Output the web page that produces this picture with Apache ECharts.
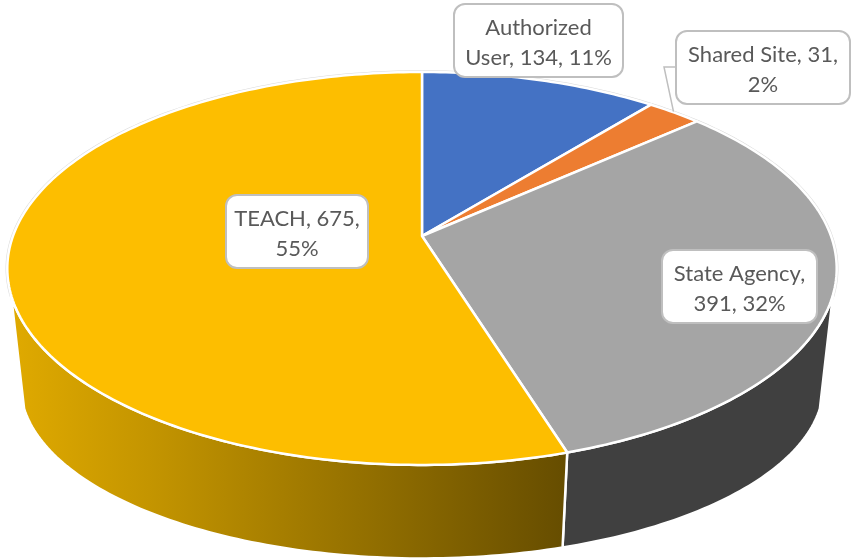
<!DOCTYPE html>
<html>
<head>
<meta charset="utf-8">
<style>
  html, body { margin: 0; background: #fff; }
  #chart { width: 851px; height: 559px; }
</style>
<script src="https://cdn.jsdelivr.net/npm/echarts@6/dist/echarts.min.js"></script>
</head>
<body>
<div id="chart"></div>
<script>
const categories = ["Authorized User", "Shared Site", "State Agency", "TEACH"];
const values = [134, 31, 391, 675];
const percents = [11, 2, 32, 55];
// word after which each label wraps
const wrapAfter = [1, 3, 2, 2];

const topColors = ["#4472C4", "#ED7D31", "#A5A5A5", "#FDBE00"];
const wallColors = ["#2F5597", "#B45F22", "#404040", null];

// label boxes: x, y, w, h
const boxes = [
  [454, 4, 169, 73],
  [676, 31, 174, 73],
  [662, 250, 155, 73],
  [226, 195, 142, 73],
];

// perspective rim of the pie, top face and bottom face
const topRim = { cx: 422, cy: 236, r: 409, s: 191.1, p: 0.1653 };
const bottomRim = { cx: 422, cy: 356.9, r: 396, s: 168.3, p: 0.165 };
const silhouette = [107, 253];

const total = values.reduce((a, b) => a + b, 0);

function project(rim, deg) {
  const a = (deg * Math.PI) / 180;
  const u = Math.sin(a);
  const v = -Math.cos(a);
  const w = 1 - rim.p * v;
  return [rim.cx + (rim.r * u) / w, rim.cy + (rim.s * v) / w];
}

function arc(rim, from, to) {
  const pts = [];
  const n = Math.max(2, Math.ceil(Math.abs(to - from)));
  for (let i = 0; i <= n; i++) pts.push(project(rim, from + ((to - from) * i) / n));
  return pts;
}

function labelText(i) {
  const words = `${categories[i]}, ${values[i]}, ${percents[i]}%`.split(" ");
  return words.slice(0, wrapAfter[i]).join(" ") + "\n" + words.slice(wrapAfter[i]).join(" ");
}

const yellowWall = new echarts.graphic.LinearGradient(10, 0, 566, 0, [
  { offset: 0, color: "#E0AA00" },
  { offset: 0.25, color: "#C49500" },
  { offset: 1, color: "#664D00" },
], true);

function renderSlice(params, api) {
  const i = params.dataIndex;
  const start = api.value(1);
  const end = api.value(2);
  const children = [];

  // faint grey halo outside the white edge
  children.push({
    type: "polyline",
    z2: 0,
    shape: { points: arc(topRim, start, end) },
    style: { fill: null, stroke: "#DADADA", lineWidth: 3.5 },
  });

  const wallFrom = Math.max(start, silhouette[0]);
  const wallTo = Math.min(end, silhouette[1]);
  if (wallTo > wallFrom) {
    children.push({
      type: "polygon",
      z2: 1,
      shape: { points: arc(topRim, wallFrom, wallTo).concat(arc(bottomRim, wallTo, wallFrom)) },
      style: { fill: wallColors[i] || yellowWall, stroke: "#fff", lineWidth: 2.5, lineJoin: "round" },
    });
  }

  children.push({
    type: "polygon",
    z2: 2,
    shape: { points: [[topRim.cx, topRim.cy]].concat(arc(topRim, start, end)) },
    style: { fill: topColors[i], stroke: "#fff", lineWidth: 2.5, lineJoin: "round" },
  });

  const [x, y, w, h] = boxes[i];
  children.push({
    type: "rect",
    z2: 4,
    shape: { x, y, width: w, height: h, r: 11 },
    style: { fill: "#fff", stroke: "#BFBFBF", lineWidth: 2 },
  });
  children.push({
    type: "text",
    z2: 5,
    style: {
      text: labelText(i),
      x: x + w / 2,
      y: y + h / 2 + 2,
      align: "center",
      verticalAlign: "middle",
      font: '22px Lato, "Noto Sans", sans-serif',
      lineHeight: 30,
      fill: "#595959",
    },
  });

  // Shared Site sits off the pie and gets a leader line
  if (categories[i] === "Shared Site") {
    const mid = project(topRim, (start + end) / 2);
    children.push({
      type: "polyline",
      z2: 3,
      shape: { points: [[x, y + 36], [x - 12, y + 36], [mid[0] - 1, mid[1] - 1]] },
      style: { fill: null, stroke: "#BFBFBF", lineWidth: 1.5 },
    });
  }

  return { type: "group", children };
}

let running = 0;
const sliceData = values.map((v, i) => {
  const start = (running / total) * 360;
  running += v;
  return { name: categories[i], value: [v, start, (running / total) * 360] };
});

const chart = echarts.init(document.getElementById("chart"), null, { renderer: "canvas" });
chart.setOption({
  animation: false,
  backgroundColor: "#fff",
  series: [
    {
      type: "custom",
      coordinateSystem: "none",
      renderItem: renderSlice,
      data: sliceData,
      silent: true,
    },
  ],
});
</script>
</body>
</html>
